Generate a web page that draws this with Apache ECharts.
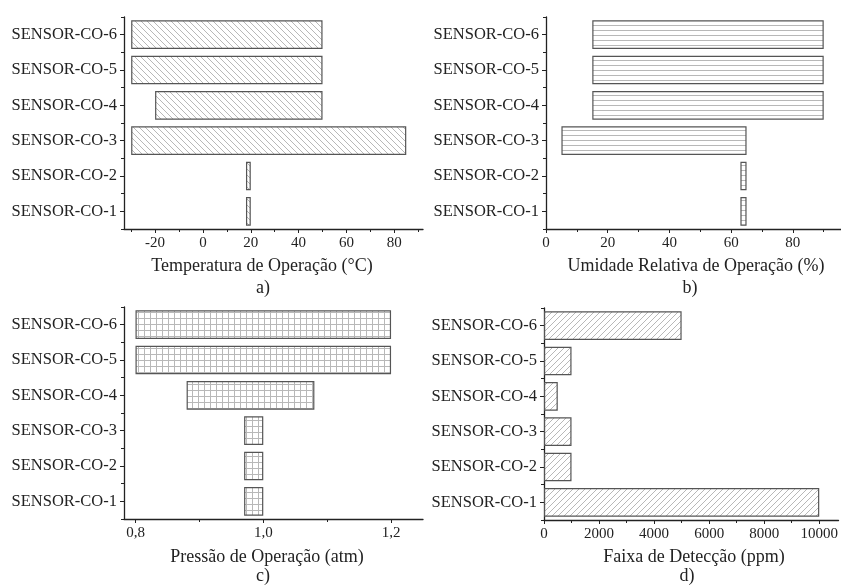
<!DOCTYPE html>
<html><head><meta charset="utf-8">
<script src="https://cdn.jsdelivr.net/npm/echarts@6/dist/echarts.min.js"></script>
<style>html,body{margin:0;padding:0;background:#fff}#c{width:841px;height:586px}</style>
</head><body><div id="c"></div>
<script>
const categories = ['SENSOR-CO-1','SENSOR-CO-2','SENSOR-CO-3','SENSOR-CO-4','SENSOR-CO-5','SENSOR-CO-6'];
const tempMin = [18, 18, -30, -20, -30, -30];
const tempMax = [20, 20, 85, 50, 50, 50];
const humMin = [63, 63, 5, 15, 15, 15];
const humMax = [65, 65, 65, 90, 90, 90];
const presMin = [0.97, 0.97, 0.97, 0.88, 0.8, 0.8];
const presMax = [1.0, 1.0, 1.0, 1.08, 1.2, 1.2];
const detMax = [10000, 1000, 1000, 500, 1000, 5000];
const tempTicks = [-20, 0, 20, 40, 60, 80];
const tempMinor = [-30, -10, 10, 30, 50, 70, 90];
const humTicks = [0, 20, 40, 60, 80];
const humMinor = [10, 30, 50, 70, 90];
const presTicks = [0.8, 1.0, 1.2];
const presMinor = [0.9, 1.1];
const detTicks = [0, 2000, 4000, 6000, 8000, 10000];
const detMinor = [1000, 3000, 5000, 7000, 9000];
const titles = ['Temperatura de Operação (°C)', 'Umidade Relativa de Operação (%)', 'Pressão de Operação (atm)', 'Faixa de Detecção (ppm)'];
const letters = ['a)', 'b)', 'c)', 'd)'];

const FONT = '"Liberation Serif", "Times New Roman", serif';
const AX = '#222';
const HATCH = '#b8b8b8';
const BORDER = '#555';

function makePattern(kind) {
  const s = kind === 'h' ? 5 : (kind === 'grid' ? 6 : 6);
  const c = document.createElement('canvas');
  c.width = s; c.height = s;
  const ctx = c.getContext('2d');
  ctx.fillStyle = '#fff';
  ctx.fillRect(0, 0, s, s);
  ctx.strokeStyle = HATCH;
  ctx.lineWidth = 1;
  ctx.beginPath();
  if (kind === 'back') {
    for (let k = -1; k <= 1; k++) { ctx.moveTo(k * s, 0); ctx.lineTo(k * s + s, s); }
  } else if (kind === 'fwd') {
    for (let k = -1; k <= 1; k++) { ctx.moveTo(k * s, s); ctx.lineTo(k * s + s, 0); }
  } else if (kind === 'h') {
    ctx.moveTo(0, 0.5); ctx.lineTo(s, 0.5);
  } else {
    ctx.moveTo(0, 0.5); ctx.lineTo(s, 0.5);
    ctx.moveTo(0.5, 0); ctx.lineTo(0.5, s);
  }
  ctx.stroke();
  return { image: c, repeat: 'repeat' };
}

const grids = [
  { left: 124, top: 17, width: 299, height: 212 },
  { left: 546, top: 17, width: 295, height: 212 },
  { left: 124, top: 307, width: 299, height: 212 },
  { left: 544, top: 308, width: 297, height: 212 }
];
const ranges = [[-33, 92], [0, 95.6], [0.782, 1.25], [0, 10700]];
const majors = [tempTicks, humTicks, presTicks, detTicks];
const minors = [tempMinor, humMinor, presMinor, detMinor];
const fmts = [v => String(v), v => String(v), v => v.toFixed(1).replace('.', ','), v => String(v)];

const xAxis = [], yAxis = [];
grids.forEach((g, i) => {
  xAxis.push({
    type: 'value', gridIndex: i, position: 'bottom', min: ranges[i][0], max: ranges[i][1],
    axisLine: { show: true, onZero: false, lineStyle: { color: AX, width: 1.3 } },
    axisTick: { show: true, length: 4, customValues: majors[i], lineStyle: { color: AX, width: 1 } },
    axisLabel: { show: true, customValues: majors[i], formatter: fmts[i], margin: 7, color: AX, fontFamily: FONT, fontSize: 15 },
    splitLine: { show: false }
  });
  xAxis.push({
    type: 'value', gridIndex: i, position: 'bottom', min: ranges[i][0], max: ranges[i][1],
    axisLine: { show: false, onZero: false },
    axisTick: { show: true, length: 3, customValues: minors[i], lineStyle: { color: AX, width: 1 } },
    axisLabel: { show: false },
    splitLine: { show: false }
  });
  yAxis.push({
    type: 'category', gridIndex: i, position: 'left', data: categories,
    axisLine: { show: true, onZero: false, lineStyle: { color: AX, width: 1.3 } },
    axisTick: { show: true, alignWithLabel: true, length: 4, lineStyle: { color: AX, width: 1 } },
    axisLabel: { margin: 7, color: AX, fontFamily: FONT, fontSize: 16.5 },
    splitLine: { show: false }
  });
  yAxis.push({
    type: 'category', gridIndex: i, position: 'left', data: categories,
    axisLine: { show: false, onZero: false },
    axisTick: { show: true, alignWithLabel: false, length: 3, lineStyle: { color: AX, width: 1 } },
    axisLabel: { show: false },
    splitLine: { show: false }
  });
});

function rangeSeries(i, mins, maxs, pattern) {
  const st = 'r' + i;
  return [
    { type: 'bar', xAxisIndex: i * 2, yAxisIndex: i * 2, stack: st, stackStrategy: 'all', data: mins,
      barWidth: '81%', itemStyle: { color: 'rgba(0,0,0,0)' }, silent: true },
    { type: 'bar', xAxisIndex: i * 2, yAxisIndex: i * 2, stack: st, stackStrategy: 'all',
      data: maxs.map((v, k) => +(v - mins[k]).toFixed(6)),
      barWidth: '81%', itemStyle: { color: pattern, borderColor: BORDER, borderWidth: 1.2 } }
  ];
}

const series = [].concat(
  rangeSeries(0, tempMin, tempMax, makePattern('back')),
  rangeSeries(1, humMin, humMax, makePattern('h')),
  rangeSeries(2, presMin, presMax, makePattern('grid')),
  [{ type: 'bar', xAxisIndex: 6, yAxisIndex: 6, data: detMax, barWidth: '81%',
     itemStyle: { color: makePattern('fwd'), borderColor: BORDER, borderWidth: 1.2 } }]
);

const titlePos = [[262, 266], [696, 266], [267, 557], [694, 557]];
const letterPos = [[263, 288], [690, 288], [263, 576], [687, 576]];
const graphic = [];
titles.forEach((t, i) => {
  graphic.push({ type: 'text', silent: true, style: { x: titlePos[i][0], y: titlePos[i][1], text: t,
    textAlign: 'center', textVerticalAlign: 'middle', align: 'center', verticalAlign: 'middle',
    font: '18px ' + FONT, fill: AX } });
  graphic.push({ type: 'text', silent: true, style: { x: letterPos[i][0], y: letterPos[i][1], text: letters[i],
    textAlign: 'center', textVerticalAlign: 'middle', align: 'center', verticalAlign: 'middle',
    font: '18px ' + FONT, fill: AX } });
});

const chart = echarts.init(document.getElementById('c'), null, { renderer: 'canvas' });
chart.setOption({
  animation: false,
  backgroundColor: '#fff',
  grid: grids.map(g => Object.assign({ containLabel: false }, g)),
  xAxis, yAxis, series, graphic
});
</script>
</body></html>
